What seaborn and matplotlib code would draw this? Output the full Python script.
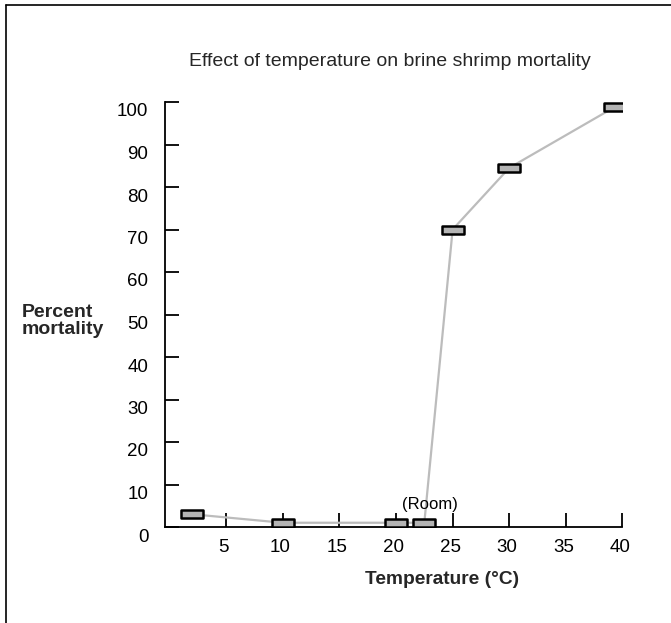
import matplotlib
matplotlib.use("Agg")
import matplotlib.pyplot as plt
import matplotlib.transforms as mtransforms
from matplotlib.path import Path
from matplotlib.lines import Line2D
import seaborn as sns
import pandas as pd

# ---- data ----
temperature = [2, 10, 20, 22.5, 25, 30, 39.3]
mortality = [3, 1, 1, 1, 70, 84.5, 98.8]
x_ticks = [5, 10, 15, 20, 25, 30, 35, 40]
y_ticks = [0, 10, 20, 30, 40, 50, 60, 70, 80, 90, 100]
title = "Effect of temperature on brine shrimp mortality"
x_label = "Temperature (°C)"
y_label = "Percent\nmortality"
note = "(Room)"

sns.set_style("white")
plt.rcParams["font.family"] = ["Liberation Sans", "DejaVu Sans"]

df = pd.DataFrame({"temp": temperature, "mort": mortality})

fig = plt.figure(figsize=(6.71, 6.23), dpi=100)
ax = fig.add_axes([165 / 671, 1 - 527 / 623, (622.5 - 165) / 671, (527 - 102) / 623])

rect = Path([(-1, -0.32), (1, -0.32), (1, 0.32), (-1, 0.32), (-1, -0.32)],
            [Path.MOVETO, Path.LINETO, Path.LINETO, Path.LINETO, Path.CLOSEPOLY])

sns.lineplot(data=df, x="temp", y="mort", ax=ax, color="#bcbcbc", linewidth=1.6,
             marker=rect, markersize=16.5, markerfacecolor="#b4b4b4",
             markeredgecolor="black", markeredgewidth=1.8, zorder=3)

ax.set_xlim(-0.4, 40)
ax.set_ylim(0, 100)
ax.set_xticks(x_ticks)
ax.set_yticks(y_ticks)
ax.set_xticklabels([str(v) for v in x_ticks])
ax.set_yticklabels([str(v) for v in y_ticks])
ax.set_xlabel("")
ax.set_ylabel("")

for side in ["top", "right"]:
    ax.spines[side].set_visible(False)
for side in ["left", "bottom"]:
    ax.spines[side].set_color("black")
    ax.spines[side].set_linewidth(1.3)

ax.tick_params(axis="both", direction="in", length=10, width=1.3, color="black",
               labelsize=13.5, labelcolor="black")
ax.tick_params(axis="y", pad=12, left=True)
ax.tick_params(axis="x", pad=9, bottom=True)

# shift y tick labels slightly downward like the reference
offset = mtransforms.ScaledTranslation(0, -8 / 100, fig.dpi_scale_trans)
for lab in ax.get_yticklabels():
    lab.set_transform(lab.get_transform() + offset)
# shift x tick labels slightly left
xoff = mtransforms.ScaledTranslation(-2.5 / 100, 0, fig.dpi_scale_trans)
for lab in ax.get_xticklabels():
    lab.set_transform(lab.get_transform() + xoff)

ax.text(23.0, 5.4, note, ha="center", va="center", fontsize=12, color="black",
        zorder=4)

fig.text(390 / 671, 1 - 62 / 623, title, ha="center", va="center", fontsize=14)
fig.text(442 / 671, 1 - 579 / 623, x_label, ha="center", va="center",
         fontsize=13.8, fontweight="bold")
fig.text(22 / 671, 1 - 321 / 623, y_label, ha="left", va="center",
         fontsize=14, fontweight="bold", linespacing=1.0)

# frame lines (top and left) around figure
fig.add_artist(Line2D([6 / 671, 1.0], [1 - 5 / 623, 1 - 5 / 623], color="black",
                      linewidth=1.2, transform=fig.transFigure))
fig.add_artist(Line2D([6 / 671, 6 / 671], [0, 1 - 5 / 623], color="black",
                      linewidth=1.2, transform=fig.transFigure))

fig.savefig("out.png", dpi=100, facecolor="white")
